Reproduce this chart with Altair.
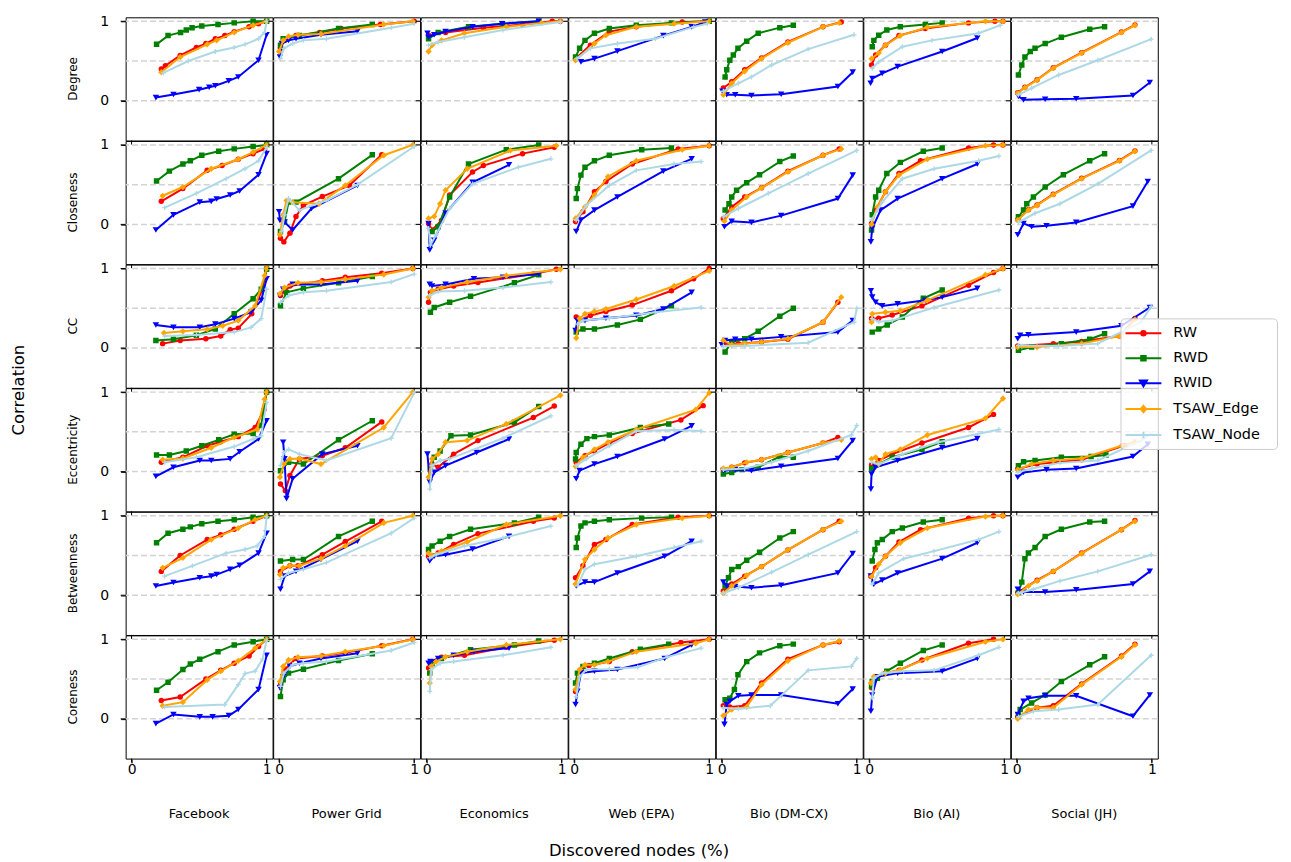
import altair as alt
import pandas as pd

METRICS = ["Degree", "Closeness", "CC", "Eccentricity", "Betweenness", "Coreness"]
NETWORKS = ["Facebook", "Power Grid", "Economics", "Web (EPA)", "Bio (DM-CX)", "Bio (AI)", "Social (JH)"]
METHODS = ["RW", "RWD", "RWID", "TSAW_Edge", "TSAW_Node"]
COLORS = ["#ff0000", "#008000", "#0000ff", "#ffa500", "#add8e6"]

DEGREE = {
    "Facebook": {
        "RW": [(0.22, 0.40), (0.25, 0.44), (0.36, 0.57), (0.48, 0.67), (0.55, 0.72), (0.62, 0.78), (0.69, 0.82), (0.76, 0.87), (0.87, 0.93), (0.94, 0.97), (1.0, 1.0)],
        "RWD": [(0.185, 0.71), (0.27, 0.82), (0.363, 0.86), (0.405, 0.89), (0.448, 0.92), (0.52, 0.94), (0.64, 0.96), (0.76, 0.98), (0.90, 1.0), (1.0, 1.0)],
        "RWID": [(0.18, 0.04), (0.31, 0.08), (0.50, 0.14), (0.575, 0.17), (0.62, 0.19), (0.72, 0.25), (0.79, 0.30), (0.94, 0.51), (1.0, 0.83)],
        "TSAW_Edge": [(0.22, 0.36), (0.36, 0.55), (0.56, 0.71), (0.63, 0.76), (0.76, 0.86), (0.90, 0.95), (1.0, 1.0)],
        "TSAW_Node": [(0.235, 0.35), (0.42, 0.50), (0.62, 0.62), (0.76, 0.67), (0.84, 0.71), (0.94, 0.78), (0.985, 0.86), (1.0, 1.0)],
    },
    "Power Grid": {
        "RW": [(0.01, 0.66), (0.04, 0.76), (0.125, 0.82), (0.30, 0.86), (0.46, 0.91), (0.75, 0.96), (1.0, 1.0)],
        "RWD": [(0.01, 0.70), (0.03, 0.78), (0.15, 0.82), (0.44, 0.91), (0.69, 0.96)],
        "RWID": [(0.006, 0.55), (0.02, 0.72), (0.07, 0.76), (0.125, 0.78), (0.31, 0.83), (0.58, 0.875)],
        "TSAW_Edge": [(0.0, 0.62), (0.03, 0.76), (0.07, 0.81), (0.14, 0.83), (0.31, 0.84), (0.775, 0.96), (0.99, 1.0)],
        "TSAW_Node": [(0.01, 0.53), (0.035, 0.66), (0.10, 0.72), (0.18, 0.76), (0.35, 0.78), (0.83, 0.92), (1.0, 0.97)],
    },
    "Economics": {
        "RW": [(0.014, 0.825), (0.14, 0.86), (0.42, 0.92), (0.71, 0.96), (0.93, 1.0), (0.99, 1.0)],
        "RWD": [(0.014, 0.78), (0.085, 0.86), (0.31, 0.93), (0.56, 0.97), (0.83, 1.0)],
        "RWID": [(0.006, 0.85), (0.014, 0.80), (0.056, 0.83), (0.14, 0.87), (0.34, 0.93), (0.56, 0.97), (0.83, 1.0)],
        "TSAW_Edge": [(0.014, 0.62), (0.04, 0.70), (0.11, 0.76), (0.28, 0.85), (0.59, 0.93), (0.85, 0.98), (0.99, 1.0)],
        "TSAW_Node": [(0.014, 0.70), (0.085, 0.74), (0.28, 0.80), (0.565, 0.89), (0.99, 0.99)],
    },
    "Web (EPA)": {
        "RW": [(0.01, 0.53), (0.12, 0.70), (0.26, 0.87), (0.46, 0.93), (0.80, 0.99), (1.0, 1.0)],
        "RWD": [(0.01, 0.55), (0.04, 0.66), (0.08, 0.76), (0.15, 0.85), (0.26, 0.91), (0.46, 0.95), (0.72, 0.98), (1.0, 1.0)],
        "RWID": [(0.05, 0.49), (0.15, 0.53), (0.32, 0.625), (0.66, 0.82), (0.87, 0.93), (0.97, 0.99)],
        "TSAW_Edge": [(0.01, 0.51), (0.15, 0.72), (0.235, 0.825), (0.46, 0.93), (0.74, 0.97), (1.0, 1.0)],
        "TSAW_Node": [(0.02, 0.53), (0.12, 0.66), (0.32, 0.72), (0.60, 0.78), (0.885, 0.93), (0.985, 0.97)],
    },
    "Bio (DM-CX)": {
        "RW": [(0.012, 0.16), (0.074, 0.24), (0.17, 0.39), (0.295, 0.54), (0.49, 0.74), (0.75, 0.93), (0.885, 0.99)],
        "RWD": [(0.025, 0.30), (0.037, 0.39), (0.06, 0.51), (0.086, 0.575), (0.12, 0.66), (0.185, 0.75), (0.27, 0.85), (0.43, 0.92), (0.53, 0.95)],
        "RWID": [(0.005, 0.12), (0.037, 0.075), (0.10, 0.075), (0.22, 0.067), (0.44, 0.083), (0.86, 0.18), (0.97, 0.36)],
        "TSAW_Edge": [(0.012, 0.075), (0.074, 0.22), (0.17, 0.37), (0.295, 0.53), (0.49, 0.73), (0.75, 0.93), (0.87, 0.98)],
        "TSAW_Node": [(0.012, 0.12), (0.123, 0.22), (0.22, 0.30), (0.37, 0.45), (0.64, 0.65), (0.98, 0.83)],
    },
    "Bio (AI)": {
        "RW": [(0.017, 0.45), (0.047, 0.575), (0.12, 0.70), (0.22, 0.82), (0.415, 0.91), (0.735, 0.98), (0.93, 1.0), (0.99, 1.0)],
        "RWD": [(0.022, 0.68), (0.034, 0.76), (0.07, 0.825), (0.13, 0.89), (0.23, 0.93), (0.415, 0.96), (0.54, 0.98)],
        "RWID": [(0.01, 0.22), (0.022, 0.28), (0.096, 0.345), (0.21, 0.43), (0.54, 0.62), (0.80, 0.79)],
        "TSAW_Edge": [(0.017, 0.53), (0.07, 0.60), (0.12, 0.70), (0.23, 0.82), (0.43, 0.925), (0.86, 1.0), (0.99, 1.0)],
        "TSAW_Node": [(0.022, 0.41), (0.07, 0.49), (0.245, 0.68), (0.465, 0.76), (0.81, 0.85), (0.97, 0.95)],
    },
    "Social (JH)": {
        "RW": [(0.007, 0.10), (0.06, 0.17), (0.15, 0.265), (0.27, 0.415), (0.48, 0.605), (0.775, 0.865), (0.875, 0.955)],
        "RWD": [(0.012, 0.325), (0.037, 0.45), (0.06, 0.55), (0.10, 0.62), (0.135, 0.66), (0.21, 0.72), (0.33, 0.80), (0.54, 0.90), (0.65, 0.93)],
        "RWID": [(0.012, 0.055), (0.05, 0.012), (0.21, 0.02), (0.44, 0.025), (0.86, 0.067), (0.985, 0.23)],
        "TSAW_Edge": [(0.007, 0.095), (0.06, 0.165), (0.15, 0.26), (0.27, 0.41), (0.48, 0.60), (0.775, 0.86), (0.875, 0.95)],
        "TSAW_Node": [(0.012, 0.075), (0.11, 0.16), (0.31, 0.325), (0.60, 0.51), (0.995, 0.775)],
    },
}

CLOSENESS = {
    "Facebook": {
        "RW": [(0.22, 0.29), (0.38, 0.45), (0.56, 0.68), (0.67, 0.74), (0.79, 0.82), (0.90, 0.89), (0.985, 0.95), (1.0, 1.0)],
        "RWD": [(0.185, 0.545), (0.28, 0.67), (0.38, 0.76), (0.435, 0.80), (0.52, 0.87), (0.645, 0.92), (0.76, 0.95), (0.90, 0.98), (1.0, 1.0)],
        "RWID": [(0.18, -0.07), (0.31, 0.12), (0.505, 0.28), (0.59, 0.29), (0.63, 0.32), (0.73, 0.37), (0.80, 0.42), (0.94, 0.625), (1.0, 0.89)],
        "TSAW_Edge": [(0.23, 0.36), (0.38, 0.47), (0.59, 0.70), (0.79, 0.82), (0.90, 0.91), (1.0, 1.0)],
        "TSAW_Node": [(0.245, 0.21), (0.48, 0.39), (0.70, 0.575), (0.84, 0.70), (0.94, 0.80), (1.0, 0.97)],
    },
    "Power Grid": {
        "RW": [(0.01, -0.175), (0.035, -0.22), (0.08, -0.11), (0.125, 0.10), (0.18, 0.24), (0.32, 0.35), (0.52, 0.49), (0.76, 0.875)],
        "RWD": [(0.01, -0.09), (0.04, 0.03), (0.07, 0.28), (0.125, 0.28), (0.44, 0.575), (0.69, 0.875)],
        "RWID": [(0.0, 0.16), (0.006, 0.05), (0.04, 0.03), (0.10, -0.07), (0.24, 0.20), (0.58, 0.49)],
        "TSAW_Edge": [(0.006, -0.13), (0.03, 0.12), (0.055, 0.30), (0.10, 0.28), (0.295, 0.26), (0.49, 0.49), (0.775, 0.87), (0.99, 1.0)],
        "TSAW_Node": [(0.02, -0.09), (0.04, 0.12), (0.07, 0.325), (0.15, 0.18), (0.35, 0.30), (0.58, 0.50), (1.0, 0.98)],
    },
    "Economics": {
        "RW": [(0.014, 0.01), (0.04, -0.07), (0.11, 0.05), (0.17, 0.37), (0.34, 0.66), (0.42, 0.74), (0.71, 0.89), (0.945, 0.97)],
        "RWD": [(0.04, -0.09), (0.085, -0.03), (0.17, 0.345), (0.31, 0.76), (0.59, 0.94), (0.83, 1.0)],
        "RWID": [(0.014, 0.012), (0.023, -0.32), (0.056, -0.20), (0.14, 0.14), (0.34, 0.53), (0.61, 0.75)],
        "TSAW_Edge": [(0.014, 0.075), (0.056, 0.10), (0.10, 0.26), (0.14, 0.43), (0.30, 0.70), (0.62, 0.93), (0.96, 0.99)],
        "TSAW_Node": [(0.014, -0.05), (0.028, -0.26), (0.07, -0.13), (0.17, 0.20), (0.34, 0.51), (0.68, 0.72), (0.92, 0.825)],
    },
    "Web (EPA)": {
        "RW": [(0.01, 0.035), (0.065, 0.16), (0.15, 0.41), (0.235, 0.54), (0.43, 0.76), (0.77, 0.95), (1.0, 0.99)],
        "RWD": [(0.015, 0.325), (0.024, 0.45), (0.05, 0.62), (0.08, 0.72), (0.15, 0.80), (0.26, 0.87), (0.50, 0.94), (0.72, 0.96)],
        "RWID": [(0.015, -0.09), (0.05, 0.055), (0.15, 0.18), (0.32, 0.345), (0.66, 0.67), (0.87, 0.825)],
        "TSAW_Edge": [(0.01, 0.075), (0.08, 0.22), (0.15, 0.37), (0.25, 0.60), (0.46, 0.80), (0.80, 0.94), (1.0, 0.99)],
        "TSAW_Node": [(0.015, 0.055), (0.09, 0.24), (0.26, 0.49), (0.46, 0.68), (0.74, 0.76), (0.94, 0.79)],
    },
    "Bio (DM-CX)": {
        "RW": [(0.012, 0.075), (0.074, 0.22), (0.17, 0.345), (0.295, 0.46), (0.49, 0.67), (0.75, 0.87), (0.87, 0.95)],
        "RWD": [(0.025, 0.18), (0.054, 0.26), (0.074, 0.345), (0.11, 0.43), (0.185, 0.525), (0.28, 0.625), (0.43, 0.79), (0.53, 0.86)],
        "RWID": [(0.02, -0.03), (0.074, 0.04), (0.22, 0.025), (0.44, 0.11), (0.86, 0.325), (0.97, 0.62)],
        "TSAW_Edge": [(0.02, 0.04), (0.074, 0.18), (0.185, 0.345), (0.295, 0.46), (0.49, 0.66), (0.75, 0.87), (0.885, 0.95)],
        "TSAW_Node": [(0.012, 0.095), (0.123, 0.20), (0.345, 0.39), (0.64, 0.64), (1.0, 0.93)],
    },
    "Bio (AI)": {
        "RW": [(0.017, 0.012), (0.047, 0.18), (0.12, 0.41), (0.22, 0.64), (0.38, 0.80), (0.735, 0.96), (0.92, 1.0), (0.99, 1.0)],
        "RWD": [(0.017, -0.07), (0.022, 0.12), (0.047, 0.345), (0.07, 0.43), (0.13, 0.64), (0.23, 0.78), (0.40, 0.92), (0.54, 0.96)],
        "RWID": [(0.012, -0.22), (0.022, -0.05), (0.084, 0.18), (0.21, 0.325), (0.54, 0.575), (0.80, 0.76)],
        "TSAW_Edge": [(0.017, 0.0), (0.06, 0.22), (0.12, 0.41), (0.22, 0.62), (0.43, 0.82), (0.86, 0.99), (0.99, 1.0)],
        "TSAW_Node": [(0.017, 0.055), (0.096, 0.28), (0.245, 0.575), (0.48, 0.70), (0.81, 0.80), (0.96, 0.86)],
    },
    "Social (JH)": {
        "RW": [(0.007, 0.06), (0.086, 0.185), (0.15, 0.245), (0.27, 0.38), (0.48, 0.58), (0.76, 0.805), (0.875, 0.925)],
        "RWD": [(0.012, 0.095), (0.05, 0.18), (0.074, 0.26), (0.123, 0.345), (0.21, 0.47), (0.345, 0.625), (0.54, 0.80), (0.65, 0.89)],
        "RWID": [(0.007, -0.13), (0.05, 0.012), (0.11, -0.03), (0.22, -0.017), (0.44, 0.025), (0.86, 0.23), (0.97, 0.54)],
        "TSAW_Edge": [(0.007, 0.055), (0.086, 0.18), (0.15, 0.24), (0.27, 0.375), (0.48, 0.575), (0.76, 0.80), (0.875, 0.92)],
        "TSAW_Node": [(0.012, 0.025), (0.135, 0.14), (0.32, 0.26), (0.60, 0.51), (0.995, 0.93)],
    },
}

CC = {
    "Facebook": {
        "RW": [(0.23, 0.055), (0.36, 0.095), (0.55, 0.117), (0.66, 0.15), (0.73, 0.23), (0.79, 0.25), (0.89, 0.43), (0.97, 0.74), (1.0, 1.0)],
        "RWD": [(0.18, 0.095), (0.31, 0.11), (0.48, 0.16), (0.62, 0.24), (0.76, 0.43), (0.90, 0.62), (0.96, 0.74), (1.0, 0.99)],
        "RWID": [(0.18, 0.29), (0.31, 0.26), (0.505, 0.26), (0.62, 0.30), (0.76, 0.37), (0.885, 0.45), (0.96, 0.60), (1.0, 0.87)],
        "TSAW_Edge": [(0.24, 0.19), (0.38, 0.21), (0.56, 0.235), (0.675, 0.28), (0.79, 0.345), (0.915, 0.53), (0.985, 0.91), (1.0, 1.0)],
        "TSAW_Node": [(0.245, 0.15), (0.48, 0.165), (0.76, 0.20), (0.885, 0.26), (0.96, 0.37), (1.0, 0.74)],
    },
    "Power Grid": {
        "RW": [(0.01, 0.66), (0.08, 0.78), (0.32, 0.845), (0.49, 0.89), (0.76, 0.94), (0.99, 1.0)],
        "RWD": [(0.01, 0.53), (0.055, 0.70), (0.18, 0.75), (0.44, 0.82), (0.69, 0.90)],
        "RWID": [(0.006, 0.66), (0.03, 0.74), (0.10, 0.80), (0.31, 0.80), (0.58, 0.845)],
        "TSAW_Edge": [(0.006, 0.68), (0.04, 0.76), (0.14, 0.82), (0.31, 0.83), (0.49, 0.865), (0.775, 0.925), (0.99, 1.0)],
        "TSAW_Node": [(0.01, 0.575), (0.07, 0.66), (0.18, 0.70), (0.35, 0.72), (0.83, 0.83), (1.0, 0.93)],
    },
    "Economics": {
        "RW": [(0.014, 0.575), (0.028, 0.70), (0.085, 0.74), (0.20, 0.78), (0.38, 0.825), (0.79, 0.93), (0.96, 0.99)],
        "RWD": [(0.028, 0.45), (0.056, 0.51), (0.17, 0.575), (0.325, 0.65), (0.65, 0.82), (0.83, 0.92)],
        "RWID": [(0.023, 0.80), (0.04, 0.78), (0.14, 0.80), (0.35, 0.87), (0.565, 0.89), (0.83, 0.93)],
        "TSAW_Edge": [(0.014, 0.64), (0.04, 0.72), (0.11, 0.76), (0.30, 0.83), (0.59, 0.91), (0.99, 0.99)],
        "TSAW_Node": [(0.023, 0.66), (0.085, 0.71), (0.28, 0.72), (0.565, 0.76), (0.92, 0.83)],
    },
    "Web (EPA)": {
        "RW": [(0.015, 0.39), (0.04, 0.345), (0.12, 0.41), (0.235, 0.46), (0.43, 0.54), (0.72, 0.72), (0.885, 0.87), (1.0, 1.0)],
        "RWD": [(0.015, 0.20), (0.065, 0.24), (0.15, 0.24), (0.32, 0.29), (0.49, 0.36), (0.72, 0.53)],
        "RWID": [(0.01, 0.22), (0.024, 0.345), (0.08, 0.345), (0.235, 0.375), (0.46, 0.41), (0.66, 0.49), (0.87, 0.70)],
        "TSAW_Edge": [(0.015, 0.125), (0.04, 0.37), (0.08, 0.43), (0.15, 0.46), (0.235, 0.49), (0.46, 0.61), (0.74, 0.78), (1.0, 0.97)],
        "TSAW_Node": [(0.024, 0.30), (0.065, 0.345), (0.26, 0.375), (0.60, 0.45), (0.94, 0.51)],
    },
    "Bio (DM-CX)": {
        "RW": [(0.012, 0.055), (0.123, 0.055), (0.295, 0.075), (0.49, 0.11), (0.75, 0.325), (0.86, 0.575)],
        "RWD": [(0.025, -0.05), (0.074, 0.075), (0.17, 0.117), (0.27, 0.21), (0.43, 0.40), (0.53, 0.50)],
        "RWID": [(0.0, 0.04), (0.025, 0.095), (0.10, 0.11), (0.22, 0.11), (0.44, 0.14), (0.86, 0.20), (0.97, 0.345)],
        "TSAW_Edge": [(0.012, 0.095), (0.074, 0.04), (0.17, 0.055), (0.295, 0.075), (0.49, 0.117), (0.75, 0.325), (0.885, 0.64)],
        "TSAW_Node": [(0.012, 0.025), (0.17, 0.025), (0.64, 0.067), (0.98, 0.325), (1.0, 0.50)],
    },
    "Bio (AI)": {
        "RW": [(0.017, 0.37), (0.07, 0.375), (0.17, 0.415), (0.39, 0.53), (0.735, 0.79), (0.92, 0.95), (0.99, 1.0)],
        "RWD": [(0.022, 0.20), (0.07, 0.24), (0.133, 0.29), (0.245, 0.39), (0.40, 0.625), (0.54, 0.73)],
        "RWID": [(0.012, 0.72), (0.022, 0.64), (0.047, 0.575), (0.096, 0.53), (0.21, 0.555), (0.415, 0.60), (0.54, 0.64), (0.80, 0.75)],
        "TSAW_Edge": [(0.017, 0.325), (0.022, 0.43), (0.12, 0.45), (0.23, 0.47), (0.43, 0.60), (0.86, 0.92), (0.99, 1.0)],
        "TSAW_Node": [(0.022, 0.37), (0.07, 0.33), (0.17, 0.345), (0.48, 0.51), (0.96, 0.73)],
    },
    "Social (JH)": {
        "RW": [(0.007, 0.025), (0.27, 0.055), (0.48, 0.083), (0.76, 0.15), (0.875, 0.37)],
        "RWD": [(0.012, -0.03), (0.11, 0.012), (0.33, 0.055), (0.54, 0.11), (0.65, 0.18)],
        "RWID": [(0.007, 0.117), (0.025, 0.16), (0.086, 0.165), (0.44, 0.20), (0.775, 0.28), (0.985, 0.51)],
        "TSAW_Edge": [(0.007, 0.012), (0.15, 0.012), (0.48, 0.055), (0.76, 0.15), (0.875, 0.36)],
        "TSAW_Node": [(0.012, 0.033), (0.31, 0.025), (0.60, 0.055), (0.92, 0.325), (0.995, 0.525)],
    },
}

ECCENTRICITY = {
    "Facebook": {
        "RW": [(0.22, 0.117), (0.38, 0.18), (0.56, 0.325), (0.66, 0.375), (0.79, 0.44), (0.915, 0.555), (0.98, 0.78), (1.0, 1.0)],
        "RWD": [(0.185, 0.21), (0.28, 0.21), (0.405, 0.26), (0.52, 0.325), (0.645, 0.40), (0.76, 0.47), (0.90, 0.48), (0.96, 0.58), (1.0, 1.0)],
        "RWID": [(0.18, -0.06), (0.31, 0.055), (0.505, 0.14), (0.59, 0.14), (0.73, 0.16), (0.80, 0.25), (0.94, 0.41), (1.0, 0.64)],
        "TSAW_Edge": [(0.23, 0.15), (0.38, 0.165), (0.59, 0.30), (0.76, 0.43), (0.93, 0.53), (0.985, 0.91), (1.0, 1.0)],
        "TSAW_Node": [(0.245, 0.117), (0.48, 0.18), (0.76, 0.315), (0.90, 0.41), (0.96, 0.45), (1.0, 0.87)],
    },
    "Power Grid": {
        "RW": [(0.01, -0.155), (0.046, -0.24), (0.08, -0.05), (0.15, 0.16), (0.32, 0.20), (0.49, 0.30), (0.76, 0.625)],
        "RWD": [(0.01, 0.012), (0.07, 0.117), (0.18, 0.095), (0.44, 0.40), (0.69, 0.64)],
        "RWID": [(0.03, 0.37), (0.04, 0.16), (0.055, -0.34), (0.10, -0.09), (0.32, 0.22), (0.58, 0.325)],
        "TSAW_Edge": [(0.006, -0.07), (0.035, 0.095), (0.08, 0.16), (0.15, 0.165), (0.31, 0.095), (0.775, 0.555), (0.99, 1.0)],
        "TSAW_Node": [(0.01, 0.075), (0.035, 0.24), (0.07, 0.28), (0.15, 0.22), (0.35, 0.14), (0.83, 0.42), (1.0, 0.99)],
    },
    "Economics": {
        "RW": [(0.023, -0.07), (0.04, 0.095), (0.085, 0.055), (0.20, 0.22), (0.38, 0.39), (0.79, 0.68), (0.945, 0.825)],
        "RWD": [(0.028, 0.033), (0.056, 0.18), (0.10, 0.26), (0.18, 0.45), (0.325, 0.46), (0.65, 0.62), (0.83, 0.82)],
        "RWID": [(0.006, 0.22), (0.023, -0.13), (0.056, -0.01), (0.14, 0.075), (0.37, 0.24), (0.61, 0.41)],
        "TSAW_Edge": [(0.014, -0.07), (0.04, 0.16), (0.085, 0.22), (0.14, 0.37), (0.30, 0.39), (0.59, 0.60), (0.99, 0.96)],
        "TSAW_Node": [(0.023, -0.22), (0.04, 0.075), (0.10, 0.14), (0.17, 0.16), (0.565, 0.42), (0.92, 0.70)],
    },
    "Web (EPA)": {
        "RW": [(0.015, 0.117), (0.08, 0.20), (0.15, 0.26), (0.26, 0.36), (0.43, 0.48), (0.79, 0.65), (0.955, 0.83)],
        "RWD": [(0.01, 0.16), (0.015, 0.24), (0.05, 0.345), (0.094, 0.415), (0.15, 0.44), (0.26, 0.46), (0.49, 0.555), (0.70, 0.60)],
        "RWID": [(0.015, -0.09), (0.04, 0.012), (0.15, 0.095), (0.32, 0.19), (0.67, 0.41), (0.87, 0.575)],
        "TSAW_Edge": [(0.01, 0.067), (0.065, 0.18), (0.15, 0.28), (0.25, 0.37), (0.46, 0.53), (0.90, 0.78), (1.0, 0.99)],
        "TSAW_Node": [(0.015, 0.075), (0.09, 0.16), (0.26, 0.325), (0.46, 0.51), (0.74, 0.525), (0.94, 0.51)],
    },
    "Bio (DM-CX)": {
        "RW": [(0.012, 0.025), (0.074, 0.055), (0.17, 0.11), (0.295, 0.15), (0.49, 0.24), (0.75, 0.36), (0.86, 0.43)],
        "RWD": [(0.012, -0.03), (0.074, -0.01), (0.15, 0.025), (0.27, 0.055), (0.43, 0.19), (0.53, 0.18)],
        "RWID": [(0.012, 0.012), (0.10, 0.025), (0.22, 0.012), (0.44, 0.067), (0.86, 0.165), (0.97, 0.39)],
        "TSAW_Edge": [(0.012, 0.04), (0.074, 0.055), (0.185, 0.117), (0.295, 0.15), (0.49, 0.24), (0.75, 0.36), (0.885, 0.40)],
        "TSAW_Node": [(0.012, 0.025), (0.17, 0.04), (0.37, 0.117), (0.64, 0.26), (0.96, 0.46), (1.0, 0.58)],
    },
    "Bio (AI)": {
        "RW": [(0.017, 0.083), (0.07, 0.14), (0.17, 0.22), (0.39, 0.36), (0.735, 0.555), (0.92, 0.72)],
        "RWD": [(0.017, 0.04), (0.07, 0.095), (0.17, 0.18), (0.39, 0.28), (0.54, 0.375)],
        "RWID": [(0.012, -0.22), (0.017, -0.03), (0.047, 0.055), (0.21, 0.14), (0.54, 0.30), (0.80, 0.415)],
        "TSAW_Edge": [(0.017, 0.16), (0.047, 0.18), (0.07, 0.095), (0.12, 0.22), (0.23, 0.28), (0.43, 0.46), (0.86, 0.67), (0.99, 0.92)],
        "TSAW_Node": [(0.017, 0.117), (0.07, 0.095), (0.245, 0.22), (0.51, 0.37), (0.96, 0.53)],
    },
    "Social (JH)": {
        "RW": [(0.007, 0.033), (0.15, 0.095), (0.48, 0.15), (0.80, 0.33)],
        "RWD": [(0.012, 0.075), (0.05, 0.125), (0.135, 0.14), (0.33, 0.18), (0.55, 0.19), (0.66, 0.21)],
        "RWID": [(0.007, -0.07), (0.05, -0.01), (0.22, 0.025), (0.44, 0.04), (0.86, 0.19), (0.97, 0.345)],
        "TSAW_Edge": [(0.007, 0.025), (0.11, 0.095), (0.27, 0.14), (0.48, 0.165), (0.775, 0.325), (0.875, 0.375)],
        "TSAW_Node": [(0.007, -0.01), (0.11, 0.04), (0.32, 0.11), (0.60, 0.14), (0.92, 0.39), (0.995, 0.48)],
    },
}

BETWEENNESS = {
    "Facebook": {
        "RW": [(0.22, 0.30), (0.36, 0.50), (0.56, 0.70), (0.66, 0.76), (0.76, 0.83), (0.90, 0.93), (1.0, 1.0)],
        "RWD": [(0.185, 0.66), (0.27, 0.78), (0.38, 0.83), (0.435, 0.86), (0.52, 0.90), (0.64, 0.93), (0.76, 0.95), (0.90, 0.98), (1.0, 1.0)],
        "RWID": [(0.18, 0.117), (0.31, 0.16), (0.505, 0.22), (0.59, 0.24), (0.63, 0.26), (0.73, 0.325), (0.80, 0.375), (0.94, 0.53), (1.0, 0.78)],
        "TSAW_Edge": [(0.23, 0.345), (0.38, 0.47), (0.59, 0.70), (0.79, 0.845), (0.915, 0.95), (1.0, 1.0)],
        "TSAW_Node": [(0.245, 0.24), (0.45, 0.37), (0.70, 0.53), (0.84, 0.575), (0.93, 0.62), (0.985, 0.74), (1.0, 0.99)],
    },
    "Power Grid": {
        "RW": [(0.01, 0.30), (0.08, 0.37), (0.14, 0.37), (0.32, 0.51), (0.49, 0.675), (0.76, 0.93)],
        "RWD": [(0.01, 0.43), (0.10, 0.45), (0.18, 0.45), (0.44, 0.74), (0.69, 0.93)],
        "RWID": [(0.01, 0.075), (0.04, 0.24), (0.125, 0.30), (0.31, 0.45), (0.58, 0.68)],
        "TSAW_Edge": [(0.006, 0.26), (0.03, 0.345), (0.08, 0.37), (0.15, 0.37), (0.31, 0.46), (0.49, 0.62), (0.775, 0.91), (0.99, 1.0)],
        "TSAW_Node": [(0.01, 0.20), (0.07, 0.28), (0.18, 0.325), (0.35, 0.41), (0.83, 0.78), (1.0, 0.97)],
    },
    "Economics": {
        "RW": [(0.014, 0.49), (0.085, 0.53), (0.20, 0.64), (0.38, 0.775), (0.79, 0.93), (0.945, 0.97)],
        "RWD": [(0.014, 0.575), (0.04, 0.62), (0.10, 0.68), (0.17, 0.74), (0.325, 0.83), (0.65, 0.91), (0.83, 0.98)],
        "RWID": [(0.023, 0.43), (0.056, 0.49), (0.14, 0.51), (0.34, 0.58), (0.61, 0.74)],
        "TSAW_Edge": [(0.014, 0.53), (0.04, 0.50), (0.11, 0.555), (0.30, 0.67), (0.59, 0.89), (0.99, 1.0)],
        "TSAW_Node": [(0.023, 0.47), (0.07, 0.51), (0.28, 0.62), (0.565, 0.72), (0.92, 0.87)],
    },
    "Web (EPA)": {
        "RW": [(0.01, 0.22), (0.065, 0.37), (0.15, 0.64), (0.235, 0.70), (0.43, 0.89), (0.77, 0.98), (1.0, 1.0)],
        "RWD": [(0.015, 0.60), (0.024, 0.72), (0.05, 0.87), (0.08, 0.91), (0.15, 0.93), (0.26, 0.95), (0.50, 0.97), (0.72, 0.98)],
        "RWID": [(0.015, 0.117), (0.08, 0.165), (0.15, 0.165), (0.32, 0.28), (0.67, 0.49), (0.87, 0.68)],
        "TSAW_Edge": [(0.01, 0.14), (0.08, 0.45), (0.15, 0.575), (0.25, 0.72), (0.46, 0.89), (0.80, 0.97), (1.0, 1.0)],
        "TSAW_Node": [(0.024, 0.117), (0.08, 0.325), (0.15, 0.39), (0.46, 0.49), (0.74, 0.60), (0.94, 0.68)],
    },
    "Bio (DM-CX)": {
        "RW": [(0.012, 0.055), (0.074, 0.14), (0.17, 0.24), (0.295, 0.36), (0.49, 0.57), (0.75, 0.825), (0.87, 0.93)],
        "RWD": [(0.025, 0.117), (0.05, 0.22), (0.074, 0.325), (0.123, 0.36), (0.185, 0.44), (0.28, 0.54), (0.43, 0.72), (0.53, 0.80)],
        "RWID": [(0.012, 0.165), (0.037, 0.117), (0.10, 0.11), (0.22, 0.095), (0.44, 0.125), (0.86, 0.28), (0.97, 0.525)],
        "TSAW_Edge": [(0.012, 0.025), (0.074, 0.117), (0.185, 0.25), (0.295, 0.36), (0.49, 0.57), (0.75, 0.825), (0.885, 0.93)],
        "TSAW_Node": [(0.012, 0.025), (0.123, 0.095), (0.37, 0.29), (0.64, 0.51), (1.0, 0.80)],
    },
    "Bio (AI)": {
        "RW": [(0.012, 0.24), (0.047, 0.345), (0.12, 0.49), (0.22, 0.67), (0.38, 0.825), (0.735, 0.97), (0.92, 1.0), (0.99, 1.0)],
        "RWD": [(0.022, 0.43), (0.042, 0.575), (0.06, 0.66), (0.096, 0.70), (0.17, 0.80), (0.245, 0.845), (0.40, 0.92), (0.54, 0.95)],
        "RWID": [(0.012, 0.24), (0.034, 0.14), (0.096, 0.19), (0.21, 0.28), (0.54, 0.46), (0.80, 0.66)],
        "TSAW_Edge": [(0.017, 0.235), (0.07, 0.39), (0.12, 0.49), (0.23, 0.66), (0.43, 0.845), (0.86, 0.99), (0.99, 1.0)],
        "TSAW_Node": [(0.022, 0.14), (0.07, 0.28), (0.255, 0.46), (0.48, 0.555), (0.81, 0.70), (0.96, 0.80)],
    },
    "Social (JH)": {
        "RW": [(0.007, 0.033), (0.15, 0.19), (0.27, 0.30), (0.48, 0.53), (0.775, 0.825), (0.875, 0.94)],
        "RWD": [(0.012, 0.033), (0.037, 0.165), (0.06, 0.46), (0.086, 0.53), (0.135, 0.60), (0.21, 0.74), (0.33, 0.83), (0.54, 0.92), (0.65, 0.93)],
        "RWID": [(0.007, 0.075), (0.05, 0.04), (0.21, 0.04), (0.44, 0.067), (0.86, 0.14), (0.985, 0.30)],
        "TSAW_Edge": [(0.007, 0.012), (0.086, 0.117), (0.15, 0.18), (0.27, 0.30), (0.48, 0.525), (0.775, 0.825), (0.875, 0.93)],
        "TSAW_Node": [(0.012, 0.025), (0.123, 0.075), (0.32, 0.18), (0.60, 0.30), (0.995, 0.51)],
    },
}

CORENESS = {
    "Facebook": {
        "RW": [(0.22, 0.23), (0.36, 0.275), (0.55, 0.50), (0.66, 0.61), (0.76, 0.70), (0.87, 0.79), (0.94, 0.91), (1.0, 1.0)],
        "RWD": [(0.185, 0.36), (0.27, 0.46), (0.38, 0.62), (0.435, 0.69), (0.505, 0.75), (0.64, 0.845), (0.76, 0.93), (0.90, 0.97), (1.0, 1.0)],
        "RWID": [(0.18, -0.06), (0.31, 0.055), (0.505, 0.025), (0.60, 0.025), (0.72, 0.04), (0.79, 0.117), (0.94, 0.37), (1.0, 0.80)],
        "TSAW_Edge": [(0.23, 0.165), (0.38, 0.21), (0.56, 0.49), (0.66, 0.60), (0.79, 0.73), (0.915, 0.89), (1.0, 1.0)],
        "TSAW_Node": [(0.245, 0.15), (0.69, 0.18), (0.79, 0.43), (0.84, 0.57), (0.915, 0.60), (0.97, 0.75), (1.0, 0.99)],
    },
    "Power Grid": {
        "RW": [(0.01, 0.43), (0.04, 0.62), (0.125, 0.76), (0.32, 0.79), (0.49, 0.83), (0.76, 0.92), (0.99, 1.0)],
        "RWD": [(0.01, 0.28), (0.03, 0.49), (0.07, 0.575), (0.18, 0.625), (0.44, 0.735), (0.69, 0.82)],
        "RWID": [(0.006, 0.39), (0.03, 0.53), (0.08, 0.66), (0.15, 0.70), (0.31, 0.76), (0.58, 0.825)],
        "TSAW_Edge": [(0.006, 0.47), (0.03, 0.66), (0.07, 0.74), (0.14, 0.775), (0.31, 0.79), (0.49, 0.845), (0.775, 0.92), (0.99, 1.0)],
        "TSAW_Node": [(0.01, 0.41), (0.035, 0.575), (0.10, 0.68), (0.18, 0.70), (0.35, 0.72), (0.83, 0.86), (1.0, 0.96)],
    },
    "Economics": {
        "RW": [(0.014, 0.64), (0.04, 0.72), (0.11, 0.775), (0.28, 0.80), (0.59, 0.90), (0.945, 0.99)],
        "RWD": [(0.023, 0.575), (0.04, 0.68), (0.11, 0.76), (0.325, 0.87), (0.65, 0.93), (0.83, 0.98)],
        "RWID": [(0.014, 0.70), (0.028, 0.72), (0.085, 0.76), (0.20, 0.80), (0.35, 0.845), (0.61, 0.89)],
        "TSAW_Edge": [(0.023, 0.45), (0.034, 0.66), (0.07, 0.72), (0.14, 0.78), (0.30, 0.845), (0.59, 0.93), (0.99, 1.0)],
        "TSAW_Node": [(0.023, 0.345), (0.034, 0.62), (0.10, 0.70), (0.20, 0.72), (0.565, 0.80), (0.92, 0.90)],
    },
    "Web (EPA)": {
        "RW": [(0.01, 0.345), (0.04, 0.575), (0.11, 0.67), (0.26, 0.72), (0.43, 0.845), (0.79, 0.96), (1.0, 1.0)],
        "RWD": [(0.01, 0.45), (0.024, 0.575), (0.065, 0.66), (0.15, 0.70), (0.26, 0.76), (0.49, 0.875), (0.70, 0.94)],
        "RWID": [(0.01, 0.18), (0.024, 0.345), (0.05, 0.575), (0.15, 0.60), (0.32, 0.62), (0.67, 0.76), (0.87, 0.93)],
        "TSAW_Edge": [(0.01, 0.37), (0.04, 0.62), (0.08, 0.68), (0.15, 0.68), (0.25, 0.72), (0.46, 0.845), (0.90, 0.95), (1.0, 1.0)],
        "TSAW_Node": [(0.015, 0.28), (0.04, 0.53), (0.09, 0.62), (0.26, 0.625), (0.47, 0.65), (0.69, 0.78), (0.94, 0.89)],
    },
    "Bio (DM-CX)": {
        "RW": [(0.012, 0.165), (0.06, 0.15), (0.17, 0.165), (0.295, 0.45), (0.49, 0.75), (0.75, 0.93), (0.87, 0.97)],
        "RWD": [(0.025, 0.24), (0.06, 0.26), (0.094, 0.37), (0.12, 0.555), (0.185, 0.72), (0.28, 0.83), (0.43, 0.92), (0.53, 0.94)],
        "RWID": [(0.02, -0.07), (0.037, 0.18), (0.06, 0.22), (0.123, 0.29), (0.22, 0.30), (0.44, 0.30), (0.86, 0.19), (0.97, 0.375)],
        "TSAW_Edge": [(0.012, 0.04), (0.074, 0.117), (0.185, 0.15), (0.295, 0.43), (0.49, 0.73), (0.75, 0.93), (0.87, 0.98)],
        "TSAW_Node": [(0.012, 0.14), (0.123, 0.125), (0.36, 0.165), (0.64, 0.61), (0.96, 0.66), (1.0, 0.76)],
    },
    "Bio (AI)": {
        "RW": [(0.017, 0.39), (0.047, 0.525), (0.12, 0.575), (0.22, 0.61), (0.39, 0.74), (0.735, 0.95), (0.92, 1.0)],
        "RWD": [(0.017, 0.41), (0.022, 0.47), (0.06, 0.51), (0.13, 0.60), (0.23, 0.70), (0.40, 0.86), (0.54, 0.93)],
        "RWID": [(0.012, 0.095), (0.022, 0.30), (0.06, 0.53), (0.21, 0.575), (0.54, 0.60), (0.80, 0.76)],
        "TSAW_Edge": [(0.012, 0.45), (0.034, 0.53), (0.12, 0.575), (0.23, 0.62), (0.43, 0.76), (0.86, 0.97), (0.99, 1.0)],
        "TSAW_Node": [(0.022, 0.26), (0.034, 0.51), (0.096, 0.575), (0.255, 0.60), (0.48, 0.61), (0.81, 0.80), (0.96, 0.90)],
    },
    "Social (JH)": {
        "RW": [(0.007, 0.025), (0.15, 0.14), (0.27, 0.165), (0.48, 0.44), (0.775, 0.79), (0.875, 0.94)],
        "RWD": [(0.012, 0.04), (0.025, 0.117), (0.11, 0.20), (0.21, 0.30), (0.33, 0.47), (0.54, 0.68), (0.65, 0.78)],
        "RWID": [(0.007, 0.055), (0.05, 0.22), (0.086, 0.26), (0.21, 0.29), (0.44, 0.29), (0.86, 0.033), (0.985, 0.30)],
        "TSAW_Edge": [(0.007, 0.0), (0.086, 0.117), (0.15, 0.14), (0.27, 0.14), (0.48, 0.43), (0.775, 0.78), (0.875, 0.93)],
        "TSAW_Node": [(0.012, 0.025), (0.123, 0.095), (0.31, 0.117), (0.60, 0.18), (0.995, 0.80)],
    },
}

GRID_LEVELS = [0, 0.5, 1]
TICK_VALUES = [0, 1]
TABLES = [DEGREE, CLOSENESS, CC, ECCENTRICITY, BETWEENNESS, CORENESS]

# ---- build long table ----
rows = []
for metric, table in zip(METRICS, TABLES):
    for net in NETWORKS:
        for g in GRID_LEVELS:
            rows.append({"metric": metric, "network": net, "kind": "grid", "y": g})
        for t in TICK_VALUES:
            rows.append({"metric": metric, "network": net, "kind": "tick", "x": t, "y": t})
        for m in METHODS:
            for i, (xv, yv) in enumerate(table[net][m]):
                rows.append({"metric": metric, "network": net, "kind": "data",
                             "method": m, "i": i, "x": xv, "y": yv})
for m in METHODS:
    rows.append({"metric": METRICS[0], "network": NETWORKS[0], "kind": "legend", "Method": m})
df = pd.DataFrame(rows)

FONT = "DejaVu Sans"
PW, PH = 147.4, 123.6

x_enc = alt.X("x:Q", scale=alt.Scale(domain=[-0.044, 1.044], nice=False, zero=False),
              axis=alt.Axis(values=[0, 1], format="d", title=None, grid=False, domain=False,
                            tickSize=4, labelPadding=0, labelFontSize=14))
y_enc = alt.Y("y:Q", scale=alt.Scale(domain=[-0.5, 1.05], nice=False, zero=False),
              axis=alt.Axis(values=[0, 1], format="d", title=None, grid=False, domain=False,
                            tickSize=5, labelPadding=12, labelFontSize=14))

SHAPES = {
    "RW": ("circle", 30, True),
    "RWD": ("square", 30, True),
    "RWID": ("triangle-down", 42, True),
    "TSAW_Edge": ("diamond", 40, True),
    "TSAW_Node": ("M-1,0L1,0M0,-1L0,1", 24, False),
}

# legend glyphs: a line segment with the marker on it (unit = sqrt(symbolSize)/2 = 8 px)
LEGEND_PATHS = [
    "M-1.25,0L3.25,0M0.72,0A0.28,0.28,0,1,0,1.28,0A0.28,0.28,0,1,0,0.72,0Z",
    "M-1.25,0L3.25,0M0.72,-0.28L1.28,-0.28L1.28,0.28L0.72,0.28Z",
    "M-1.25,0L3.25,0M0.56,-0.34L1.44,-0.34L1.0,0.4Z",
    "M-1.25,0L3.25,0M1.0,-0.4L1.34,0L1.0,0.4L0.66,0Z",
    "M-1.25,0L3.25,0M1.0,-0.42L1.0,0.42",
]

base = alt.Chart()
ticks = base.transform_filter(alt.datum.kind == "tick")
layers = [
    base.transform_filter(alt.datum.kind == "grid").mark_rule(
        color="#d3d3d3", strokeDash=[6, 3], strokeWidth=1.5, clip=True
    ).encode(y=y_enc),
    # small outward ticks on every panel (like shared matplotlib axes)
    ticks.mark_rule(color="black", strokeWidth=1).encode(
        y=y_enc, x=alt.value(-5), x2=alt.value(0)),
    ticks.mark_rule(color="black", strokeWidth=1).encode(
        x=x_enc, y=alt.value(PH), y2=alt.value(PH + 4)),
]
for m, c in zip(METHODS, COLORS):
    shp, sz, filled = SHAPES[m]
    sub = base.transform_filter(alt.datum.method == m)
    layers.append(sub.mark_line(color=c, strokeWidth=2, clip=True).encode(x=x_enc, y=y_enc, order="i:Q"))
    if filled:
        pm = sub.mark_point(shape=shp, size=sz, filled=True, color=c, opacity=1, clip=True)
    else:
        pm = sub.mark_point(shape=shp, size=sz, filled=False, color=c, strokeWidth=1.3, opacity=1, clip=True)
    layers.append(pm.encode(x=x_enc, y=y_enc))

leg = alt.Legend(title=None, orient="none", legendX=998, legendY=302,
                 fillColor="rgba(255,255,255,0.8)", strokeColor="#cccccc", cornerRadius=4,
                 padding=6, symbolSize=256, symbolStrokeWidth=2, labelFontSize=14.5,
                 labelFont=FONT, labelColor="black", labelOffset=29, rowPadding=9,
                 symbolOpacity=1, labelExpr="datum.label + '\u2800'")
legend_layer = base.transform_filter(alt.datum.kind == "legend").mark_point(
    filled=True, size=256, strokeWidth=2, clip=True, opacity=1
).encode(
    x=alt.value(-200), y=alt.value(-200),
    fill=alt.Fill("Method:N", scale=alt.Scale(domain=METHODS, range=COLORS), legend=leg),
    stroke=alt.Stroke("Method:N", scale=alt.Scale(domain=METHODS, range=COLORS), legend=leg),
    shape=alt.Shape("Method:N", scale=alt.Scale(domain=METHODS, range=LEGEND_PATHS), legend=leg),
)
layers.append(legend_layer)

inner = alt.layer(*layers, data=df).properties(width=PW, height=PH)

chart = inner.facet(
    row=alt.Row("metric:N", sort=METRICS,
                header=alt.Header(title="Correlation", titleOrient="left", labelOrient="left",
                                  labelAngle=-90, titleAngle=-90, labelFontSize=12,
                                  titleFontSize=16.5, labelPadding=15, titlePadding=13)),
    column=alt.Column("network:N", sort=NETWORKS,
                      header=alt.Header(title="Discovered nodes (%)", titleOrient="bottom",
                                        labelOrient="bottom", labelFontSize=13,
                                        titleFontSize=16.5, labelPadding=31, titlePadding=12)),
    spacing=0,
    bounds="flush",
).configure_view(
    stroke="black", strokeWidth=1
).configure_axis(
    labelFont=FONT, labelColor="black", tickColor="black", titleFont=FONT
).configure_header(
    labelFont=FONT, titleFont=FONT, labelColor="black", titleColor="black",
    titleFontWeight="normal"
).properties(
    background="white",
    padding={"left": 3, "top": 4, "right": 5, "bottom": 4},
)

chart.save("out.html", embed_options={"renderer": "svg", "actions": False})
